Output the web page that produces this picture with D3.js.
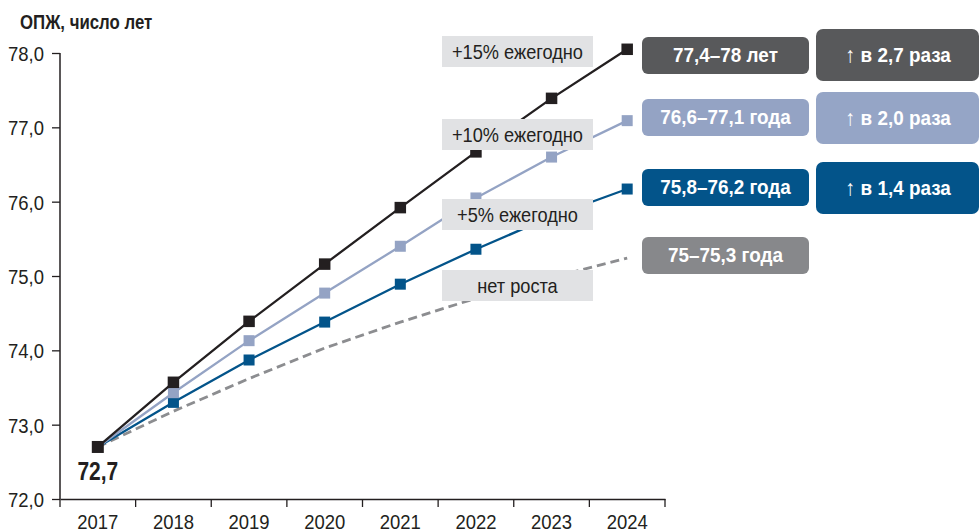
<!DOCTYPE html>
<html lang="ru">
<head>
<meta charset="utf-8">
<script src="https://cdn.jsdelivr.net/npm/d3@7"></script>
<style>
  html, body { margin: 0; padding: 0; background: #fff; }
  svg { display: block; }
  text { font-family: "Liberation Sans", Arial, sans-serif; }
</style>
</head>
<body>
<svg id="chart" width="979" height="532"></svg>
<script>
// Years on the horizontal axis
const years = ["2017", "2018", "2019", "2020", "2021", "2022", "2023", "2024"];

// Life expectancy by scenario, years
const growth15 = [72.7, 73.57, 74.39, 75.16, 75.92, 76.67, 77.39, 78.05];
const growth10 = [72.7, 73.43, 74.13, 74.77, 75.40, 76.05, 76.60, 77.09];
const growth5  = [72.7, 73.30, 73.87, 74.38, 74.89, 75.36, 75.80, 76.17];
const noGrowth = [72.7, 73.18, 73.62, 74.03, 74.38, 74.70, 74.98, 75.24];

// Y axis ticks
const yTicks = [72, 73, 74, 75, 76, 77, 78];

// Annotation texts
const scenarioNames = ["+15% ежегодно", "+10% ежегодно", "+5% ежегодно", "нет роста"];
const rangeLabels = ["77,4–78 лет", "76,6–77,1 года", "75,8–76,2 года", "75–75,3 года"];
const ratioLabels = ["в 2,7 раза", "в 2,0 раза", "в 1,4 раза"];
const startLabel = "72,7";
const axisTitle = "ОПЖ, число лет";

const svg = d3.select("#chart");

const x = d3.scaleBand().domain(years).range([60, 665]).padding(0);
const y = d3.scaleLinear().domain([72, 78]).range([499, 53]);
const fmt = v => d3.format(".1f")(v).replace(".", ",");

// Horizontal squeeze around each text's anchor, for a condensed look
function squeeze(sel, k) {
  sel.each(function () {
    const t = d3.select(this);
    const ax = +t.attr("x") || 0;
    t.attr("transform", `translate(${ax},0) scale(${k},1) translate(${-ax},0)`);
  });
}

// Axis title
svg.append("text")
  .attr("x", 20).attr("y", 29)
  .attr("font-size", 20.5).attr("font-weight", "bold")
  .attr("fill", "#231f20")
  .text(axisTitle)
  .call(squeeze, 0.82);

// Y axis
const yAxis = svg.append("g")
  .attr("transform", "translate(60,0)")
  .call(d3.axisLeft(y).tickValues(yTicks).tickFormat(fmt).tickSize(8).tickPadding(8));
yAxis.select(".domain").attr("stroke", "#231f20").attr("stroke-width", 1.5).attr("d", "M0,53V499");
yAxis.selectAll(".tick line").attr("stroke", "#231f20").attr("stroke-width", 1.3);
yAxis.selectAll(".tick text").attr("font-size", 21).attr("fill", "#231f20")
  .attr("font-family", "Liberation Sans, Arial, sans-serif").attr("dy", "0.36em")
  .call(squeeze, 0.88);

// X axis: labels centred in each band, ticks at band edges
const xAxis = svg.append("g")
  .attr("transform", "translate(0,499)")
  .call(d3.axisBottom(x).tickSize(0).tickPadding(15));
xAxis.select(".domain").attr("stroke", "#231f20").attr("stroke-width", 1.5);
xAxis.selectAll(".tick text").attr("font-size", 21).attr("fill", "#231f20")
  .attr("font-family", "Liberation Sans, Arial, sans-serif")
  .call(squeeze, 0.88);
const edges = years.map(d => x(d)).concat([x.range()[1]]);
xAxis.selectAll("line.edge").data(edges).join("line")
  .attr("class", "edge")
  .attr("x1", d => d).attr("x2", d => d)
  .attr("y1", 0).attr("y2", 8)
  .attr("stroke", "#231f20").attr("stroke-width", 1.3);

const cx = d => x(d) + x.bandwidth() / 2;
const line = d3.line().x((d, i) => cx(years[i])).y(d => y(d));

// No-growth scenario (dashed, no markers)
svg.append("path")
  .attr("d", line(noGrowth))
  .attr("fill", "none").attr("stroke", "#8c8d90")
  .attr("stroke-width", 2.8).attr("stroke-dasharray", "9,5");

const series = [
  { values: growth5, color: "#03548a", size: 11 },
  { values: growth10, color: "#94a3c4", size: 11 },
  { values: growth15, color: "#231f20", size: 11.5 }
];

series.forEach(s => {
  svg.append("path")
    .attr("d", line(s.values))
    .attr("fill", "none").attr("stroke", s.color).attr("stroke-width", 2.3);
  svg.selectAll(null).data(s.values.slice(1)).join("rect")
    .attr("x", (d, i) => cx(years[i + 1]) - s.size / 2)
    .attr("y", d => y(d) - s.size / 2)
    .attr("width", s.size).attr("height", s.size)
    .attr("fill", s.color);
});

// Common starting point
svg.append("rect")
  .attr("x", cx(years[0]) - 6).attr("y", y(growth15[0]) - 6)
  .attr("width", 12).attr("height", 12).attr("fill", "#231f20");
svg.append("text")
  .attr("x", cx(years[0])).attr("y", y(growth15[0]) + 33)
  .attr("text-anchor", "middle")
  .attr("font-size", 25).attr("font-weight", "bold").attr("fill", "#231f20")
  .text(startLabel)
  .call(squeeze, 0.84);

// Scenario name boxes
const nameTops = [36, 119, 199, 270];
scenarioNames.forEach((t, i) => {
  const g = svg.append("g").attr("transform", `translate(442,${nameTops[i]})`);
  g.append("rect").attr("width", 151).attr("height", 31).attr("fill", "#e1e2e4");
  g.append("text")
    .attr("x", 75.5).attr("y", 23)
    .attr("text-anchor", "middle")
    .attr("font-size", 20).attr("fill", "#231f20")
    .text(t)
    .call(squeeze, 0.91);
});

// Range boxes next to the 2024 values
const rangeColors = ["#58595b", "#94a3c4", "#03548a", "#87888b"];
const rangeTops = [37, 99, 169, 237];
rangeLabels.forEach((t, i) => {
  const g = svg.append("g").attr("transform", `translate(642,${rangeTops[i]})`);
  g.append("rect").attr("width", 167).attr("height", 37).attr("rx", 6).attr("fill", rangeColors[i]);
  g.append("text")
    .attr("x", 83.5).attr("y", 25.5)
    .attr("text-anchor", "middle")
    .attr("font-size", 21).attr("font-weight", "bold").attr("fill", "#fff")
    .text(t)
    .call(squeeze, 0.9);
});

// Growth ratio boxes
const ratioColors = ["#58595b", "#95a5c6", "#03548a"];
const ratioTops = [29, 92, 162];
ratioLabels.forEach((t, i) => {
  const g = svg.append("g").attr("transform", `translate(816,${ratioTops[i]})`);
  g.append("rect").attr("width", 163).attr("height", 52).attr("rx", 7).attr("fill", ratioColors[i]);
  const label = g.append("text")
    .attr("x", 82).attr("y", 33)
    .attr("text-anchor", "middle")
    .attr("font-size", 21).attr("font-weight", "bold").attr("fill", "#fff");
  label.append("tspan").attr("font-weight", "normal").attr("font-size", 22).text("↑ ");
  label.append("tspan").text(t);
  label.call(squeeze, 0.9);
});
</script>
</body>
</html>
